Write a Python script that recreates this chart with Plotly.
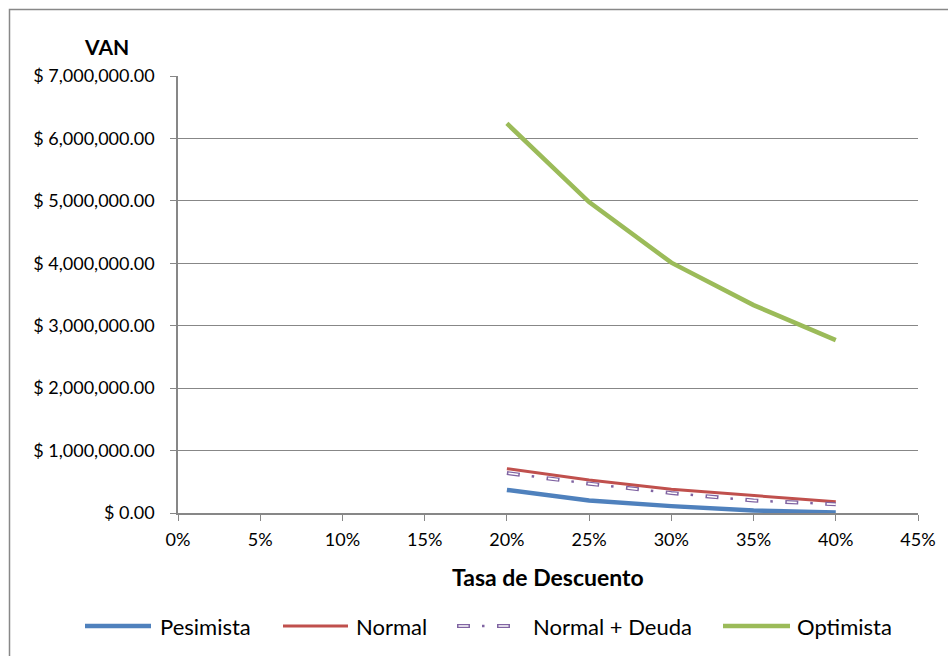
import plotly.graph_objects as go

# Tasa de descuento (x) and VAN per scenario
tasas = [0.20, 0.25, 0.30, 0.35, 0.40]
pesimista = [370000, 200000, 110000, 40000, 10000]
normal = [710000, 530000, 380000, 280000, 180000]
normal_deuda = [640000, 470000, 320000, 200000, 140000]
optimista = [6240000, 4980000, 4010000, 3330000, 2770000]

series_names = ["Pesimista", "Normal", "Normal + Deuda", "Optimista"]
x_ticks = [0, 0.05, 0.10, 0.15, 0.20, 0.25, 0.30, 0.35, 0.40, 0.45]

FONT = "Lato"
GRID = "#878787"
BLUE, RED, PURPLE, GREEN = "#4F81BD", "#C0504D", "#8064A2", "#9BBB59"

# hollow-dash + dot pattern for the "Normal + Deuda" series
DASH_OUTER = "13px,27px"
DASH_INNER = "0px,1.5px,10px,28.5px"
DASH_DOT = "0px,25px,2.5px,12.5px"

fig = go.Figure()
fig.add_trace(go.Scatter(x=tasas, y=pesimista, name=series_names[0], mode="lines",
                         line=dict(color=BLUE, width=4.5)))
fig.add_trace(go.Scatter(x=tasas, y=normal, name=series_names[1], mode="lines",
                         line=dict(color=RED, width=3)))
fig.add_trace(go.Scatter(x=tasas, y=normal_deuda, name=series_names[2], mode="lines",
                         line=dict(color=PURPLE, width=4, dash=DASH_OUTER)))
fig.add_trace(go.Scatter(x=tasas, y=normal_deuda, name=series_names[2], mode="lines",
                         line=dict(color="white", width=1.6, dash=DASH_INNER)))
fig.add_trace(go.Scatter(x=tasas, y=normal_deuda, name=series_names[2], mode="lines",
                         line=dict(color=PURPLE, width=2.5, dash=DASH_DOT)))
fig.add_trace(go.Scatter(x=tasas, y=optimista, name=series_names[3], mode="lines",
                         line=dict(color=GREEN, width=4.5)))

L, R, T, B = 178, 30, 76, 143
W, H = 948, 656
pw, ph = W - L - R, H - T - B


def px_x(p):
    return (p - L) / pw


def px_y(p):
    return (H - B - p) / ph


shapes = [dict(type="rect", xref="paper", yref="paper",
               x0=px_x(9.5), x1=px_x(970), y0=px_y(680), y1=px_y(9.5),
               line=dict(color="#888888", width=1.5), fillcolor="rgba(0,0,0,0)", layer="below")]
annotations = [
    dict(text="<b>VAN</b>", xref="paper", yref="paper", x=px_x(106), y=px_y(46),
         xanchor="center", yanchor="middle", showarrow=False, font=dict(size=21)),
    dict(text="<b>Tasa de Descuento</b>", xref="paper", yref="paper", x=px_x(548), y=px_y(577),
         xanchor="center", yanchor="middle", showarrow=False, font=dict(size=23)),
]

# legend row: line sample span and label start (pixels)
LEG_Y = 626
legend_rows = [
    (series_names[0], 85, 151, 158, [dict(color=BLUE, width=4.5)]),
    (series_names[1], 283, 348, 354, [dict(color=RED, width=3)]),
    (series_names[2], 457, 511, 531, [dict(color=PURPLE, width=4, dash=DASH_OUTER),
                                      dict(color="white", width=1.6, dash=DASH_INNER),
                                      dict(color=PURPLE, width=2.5, dash=DASH_DOT)]),
    (series_names[3], 723, 790, 795, [dict(color=GREEN, width=4.5)]),
]
for name, x0, x1, tx, styles in legend_rows:
    for st in styles:
        shapes.append(dict(type="line", xref="paper", yref="paper",
                           x0=px_x(x0), x1=px_x(x1), y0=px_y(LEG_Y), y1=px_y(LEG_Y), line=st))
    annotations.append(dict(text=name, xref="paper", yref="paper", x=px_x(tx), y=px_y(LEG_Y),
                            xanchor="left", yanchor="middle", showarrow=False,
                            font=dict(size=22)))

fig.update_layout(
    width=W, height=H,
    margin=dict(l=L, r=R, t=T, b=B),
    paper_bgcolor="white", plot_bgcolor="white",
    font=dict(family=FONT, size=18, color="black"),
    showlegend=False,
    xaxis=dict(range=[0, 0.45], tickvals=x_ticks, tickformat=".0%",
               showgrid=False, showline=True, linecolor=GRID, linewidth=1.5,
               ticks="outside", ticklen=6, tickcolor=GRID, zeroline=False,
               tickfont=dict(size=18), ticklabelstandoff=4),
    yaxis=dict(range=[0, 7000000], dtick=1000000, tickprefix="$ ", tickformat=",.2f",
               showgrid=True, gridcolor=GRID, gridwidth=1.3,
               showline=True, linecolor=GRID, linewidth=1.5,
               ticks="outside", ticklen=6, tickcolor=GRID, zeroline=False,
               tickfont=dict(size=18), ticklabelstandoff=12),
    shapes=shapes,
    annotations=annotations,
)

fig.write_html("out.html")
